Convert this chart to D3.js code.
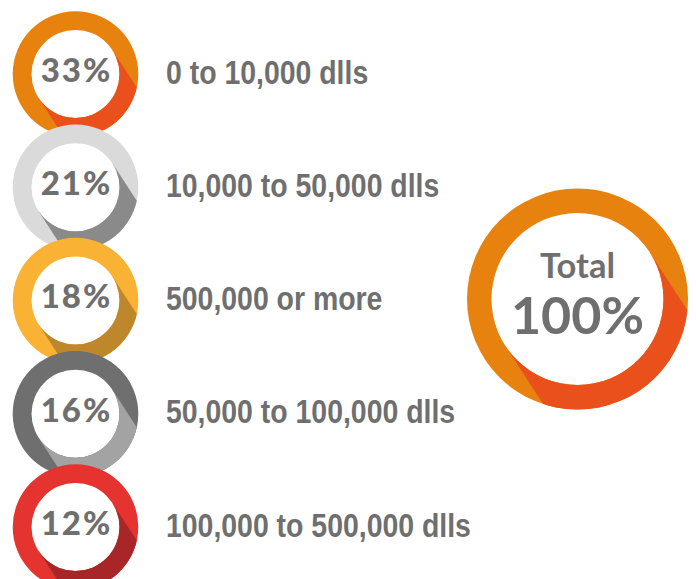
<!DOCTYPE html>
<html><head><meta charset="utf-8">
<script src="https://cdn.jsdelivr.net/npm/d3@7/dist/d3.min.js"></script>
<style>html,body{margin:0;padding:0;background:#fff;}svg{display:block;}</style>
</head><body>
<svg id="chart" width="696" height="579"></svg>
<script>
const categories = ["0 to 10,000 dlls", "10,000 to 50,000 dlls", "500,000 or more", "50,000 to 100,000 dlls", "100,000 to 500,000 dlls"];
const values = [33, 21, 18, 16, 12];
const lightColors = ["#E8820F", "#DADADA", "#F9B233", "#6F6F6F", "#E5332F"];
const darkColors = ["#E9501C", "#8A8A8A", "#BE872C", "#A3A3A3", "#A82628"];
const totalLabel = "Total";
const totalValue = 100;
const totalColors = ["#E8820F", "#E9501C"];

const svg = d3.select("#chart");
const textColor = "#6F6F6F";
const shadowAngle = 57 * Math.PI / 180;
const dir = [Math.cos(shadowAngle), Math.sin(shadowAngle)];
const nrm = [dir[1], -dir[0]];

const y = d3.scalePoint().domain(categories).range([74, 527]);
const cx = 75.5;
const rOut = 62.8, rIn = 44;
const pct = d3.format(".0f");

const defs = svg.append("defs");

function ring(g, id, x0, y0, ro, ri, light, dark) {
  const arc = d3.arc().innerRadius(ri).outerRadius(ro).startAngle(0).endAngle(2 * Math.PI);
  const L = ro * 3;
  const pts = [
    [ri * nrm[0], ri * nrm[1]],
    [ri * nrm[0] + L * dir[0], ri * nrm[1] + L * dir[1]],
    [-ri * nrm[0] + L * dir[0], -ri * nrm[1] + L * dir[1]],
    [-ri * nrm[0], -ri * nrm[1]]
  ];
  defs.append("clipPath").attr("id", id).append("polygon").attr("points", pts.map(p => p.join(",")).join(" "));
  const gg = g.append("g").attr("transform", `translate(${x0},${y0})`);
  gg.append("circle").attr("r", ri).attr("fill", "#fff");
  gg.append("path").attr("d", arc()).attr("fill", light);
  gg.append("path").attr("d", arc()).attr("fill", dark).attr("clip-path", `url(#${id})`);
  return gg;
}

const rows = svg.append("g");
categories.forEach((c, i) => {
  const gg = ring(rows, "clip" + i, cx, y(c), rOut, rIn, lightColors[i], darkColors[i]);
  gg.append("text").attr("text-anchor", "middle").attr("x", 1).attr("y", -4).attr("dy", "0.36em")
    .attr("font-family", "Lato, sans-serif").attr("font-weight", 900).attr("font-size", 33)
    .attr("letter-spacing", 2)
    .attr("fill", textColor).text(pct(values[i]) + "%");
});
const condense = 0.875;
categories.forEach((c, i) => {
  svg.append("g").attr("transform", `translate(166,${y(c) - 2}) scale(${condense},1)`)
    .append("text").attr("dy", "0.36em")
    .attr("font-family", "Liberation Sans, Arial, sans-serif").attr("font-weight", "bold")
    .attr("font-size", 32.5).attr("fill", textColor).text(c);
});

const tg = ring(svg, "clipT", 577.5, 299, 110.5, 86, totalColors[0], totalColors[1]);
tg.append("text").attr("text-anchor", "middle").attr("y", -33).attr("dy", "0.36em")
  .attr("font-family", "Lato, sans-serif").attr("font-weight", "bold").attr("font-size", 34.5)
  .attr("fill", textColor).text(totalLabel);
tg.append("text").attr("text-anchor", "middle").attr("y", 16).attr("dy", "0.36em")
  .attr("font-family", "Lato, sans-serif").attr("font-weight", "bold").attr("font-size", 52)
  .attr("fill", textColor).text(totalValue + "%");
</script>
</body></html>
